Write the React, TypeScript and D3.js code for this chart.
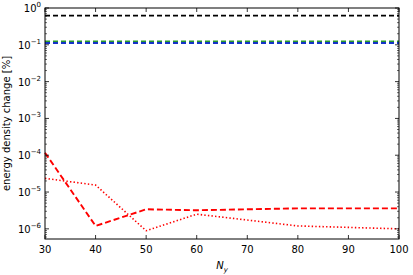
import React, { useRef, useEffect } from "react";
import * as d3 from "d3";

const ny = [30, 40, 50, 60, 80, 100];
const blackDashed = [0.62, 0.62, 0.62, 0.62, 0.62, 0.62];
const greenDashed = [0.12, 0.12, 0.12, 0.12, 0.12, 0.12];
const blueDashed = [0.112, 0.112, 0.112, 0.112, 0.112, 0.112];
const redDashed = [1.17e-4, 1.2e-6, 3.4e-6, 3.2e-6, 3.6e-6, 3.6e-6];
const redDotted = [2.35e-5, 1.55e-5, 8.9e-7, 2.5e-6, 1.2e-6, 1.0e-6];
const xTicks = [30, 40, 50, 60, 70, 80, 90, 100];
const yExponents = [0, -1, -2, -3, -4, -5, -6];

const series = [
  { values: blackDashed, color: "#000000", width: 1.6, dash: "5,3" },
  { values: greenDashed, color: "#2a9a2a", width: 3, dash: "5,3" },
  { values: blueDashed, color: "#1533c8", width: 1.8, dash: "5,3" },
  { values: redDashed, color: "#ff0000", width: 1.9, dash: "6,3" },
  { values: redDotted, color: "#ff0000", width: 1.6, dash: "1.4,2.2" },
];

const W = 413;
const H = 275;
const margin = { top: 8, right: 14, bottom: 36, left: 45 };

const App = () => {
  const svgRef = useRef<SVGSVGElement>(null);

  useEffect(() => {
    const svg = d3.select(svgRef.current);
    svg.selectAll("*").remove();
    const iw = W - margin.left - margin.right;
    const ih = H - margin.top - margin.bottom;
    const x = d3.scaleLinear().domain([30, 100]).range([0, iw]);
    const y = d3.scaleLog().domain([5.3e-7, 1]).range([ih, 0]);

    const g = svg.append("g").attr("transform", `translate(${margin.left},${margin.top})`);
    const font = "DejaVu Sans, sans-serif";

    // lines
    const myLine = d3
      .line<number>()
      .x((d, i) => x(ny[i]))
      .y((d) => y(d));
    series.forEach((s) => {
      g.append("path")
        .datum(s.values)
        .attr("d", myLine)
        .attr("fill", "none")
        .attr("stroke", s.color)
        .attr("stroke-width", s.width)
        .attr("stroke-dasharray", s.dash);
    });

    // frame
    g.append("rect")
      .attr("width", iw)
      .attr("height", ih)
      .attr("fill", "none")
      .attr("stroke", "#000")
      .attr("stroke-width", 1);

    // x ticks
    xTicks.forEach((t) => {
      g.append("line").attr("x1", x(t)).attr("x2", x(t)).attr("y1", ih).attr("y2", ih - 4).attr("stroke", "#000").attr("stroke-width", 0.8);
      g.append("line").attr("x1", x(t)).attr("x2", x(t)).attr("y1", 0).attr("y2", 4).attr("stroke", "#000").attr("stroke-width", 0.8);
      g.append("text")
        .attr("x", x(t))
        .attr("y", ih + 14)
        .attr("text-anchor", "middle")
        .attr("font-family", font)
        .attr("font-size", 10)
        .text(t);
    });

    // y major ticks
    yExponents.forEach((e) => {
      const yy = y(Math.pow(10, e));
      g.append("line").attr("x1", 0).attr("x2", 4).attr("y1", yy).attr("y2", yy).attr("stroke", "#000").attr("stroke-width", 0.8);
      g.append("line").attr("x1", iw).attr("x2", iw - 4).attr("y1", yy).attr("y2", yy).attr("stroke", "#000").attr("stroke-width", 0.8);
      const txt = g.append("text")
        .attr("x", -4)
        .attr("y", yy + 4)
        .attr("text-anchor", "end")
        .attr("font-family", font)
        .attr("font-size", 10);
      txt.append("tspan").text("10");
      txt.append("tspan").attr("dy", -5).attr("font-size", 7).text(e === 0 ? "0" : "\u2212" + Math.abs(e));
    });

    // y minor ticks
    for (let e = -7; e < 0; e++) {
      for (let k = 2; k <= 9; k++) {
        const v = k * Math.pow(10, e);
        if (v < 5.3e-7 || v > 1) continue;
        const yy = y(v);
        g.append("line").attr("x1", 0).attr("x2", 2).attr("y1", yy).attr("y2", yy).attr("stroke", "#000").attr("stroke-width", 0.6);
        g.append("line").attr("x1", iw).attr("x2", iw - 2).attr("y1", yy).attr("y2", yy).attr("stroke", "#000").attr("stroke-width", 0.6);
      }
    }

    // axis labels
    const xl = g.append("text")
      .attr("x", iw / 2)
      .attr("y", ih + 30)
      .attr("text-anchor", "middle")
      .attr("font-family", font)
      .attr("font-size", 10)
      .attr("font-style", "italic");
    xl.append("tspan").text("N");
    xl.append("tspan").attr("dy", 3).attr("font-size", 7).text("y");

    g.append("text")
      .attr("transform", `translate(${-35},${ih / 2}) rotate(-90)`)
      .attr("text-anchor", "middle")
      .attr("font-family", font)
      .attr("font-size", 10)
      .text("energy density change [%]");
  }, []);

  return (
    <svg
      ref={svgRef}
      width={W}
      height={H}
      style={{ position: "absolute", left: 0, top: 0, background: "#fff" }}
    />
  );
};

export default App;
